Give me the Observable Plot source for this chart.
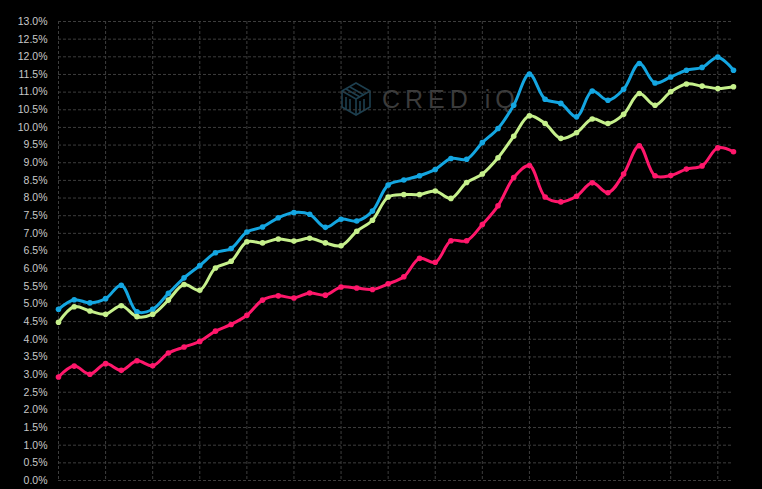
<!DOCTYPE html>
<html><head><meta charset="utf-8">
<script src="https://cdn.jsdelivr.net/npm/d3@7"></script>
<script src="https://cdn.jsdelivr.net/npm/@observablehq/plot@0.6"></script>
<style>
html,body{margin:0;padding:0;background:#000;}
#wrap{position:relative;width:762px;height:489px;background:#000;overflow:hidden;}
#logo{position:absolute;left:340px;top:82px;display:flex;align-items:center;z-index:0;pointer-events:none;}
#logo span{font-family:"Liberation Sans",Arial,sans-serif;font-size:25px;letter-spacing:5px;color:#3b3b3b;margin-left:10px;}
#chart{position:absolute;left:0;top:0;z-index:1;}
</style></head><body>
<div id="wrap">
  <div id="logo">
    <svg width="32" height="34" viewBox="0 0 32 34">
      <g fill="none" stroke="#1d3f4f" stroke-width="1.6">
        <polygon points="16,1 30,9 30,25 16,33 2,25 2,9"/>
        <line x1="16" y1="17" x2="16" y2="33"/><line x1="16" y1="17" x2="2" y2="9"/><line x1="16" y1="17" x2="30" y2="9"/>
        <line x1="6" y1="7" x2="20" y2="15"/><line x1="10" y1="5" x2="24" y2="13"/><line x1="20" y1="19" x2="20" y2="31"/><line x1="24" y1="17" x2="24" y2="29"/>
        <line x1="6" y1="15" x2="6" y2="27"/><line x1="10" y1="17" x2="10" y2="29"/>
      </g>
    </svg>
    <span>CRED iQ</span>
  </div>
  <div id="chart"></div>
</div>
<script>
const seriesNames = ["Series 1", "Series 2", "Series 3"];
const seriesColors = ["#14a6e1", "#c6f08c", "#ff176b"];
const series1 = [4.85,5.12,5.03,5.15,5.53,4.78,4.85,5.30,5.74,6.09,6.45,6.57,7.04,7.18,7.44,7.59,7.54,7.17,7.40,7.35,7.63,8.37,8.51,8.63,8.81,9.12,9.10,9.57,9.97,10.63,11.51,10.80,10.68,10.30,11.03,10.77,11.08,11.81,11.26,11.43,11.62,11.70,11.99,11.62];
const series2 = [4.48,4.92,4.80,4.71,4.95,4.64,4.71,5.11,5.55,5.39,6.02,6.21,6.76,6.73,6.84,6.78,6.86,6.73,6.65,7.06,7.37,8.03,8.10,8.10,8.20,7.99,8.44,8.68,9.14,9.75,10.33,10.11,9.69,9.85,10.24,10.11,10.37,10.96,10.63,11.01,11.23,11.17,11.10,11.15];
const series3 = [2.93,3.24,3.01,3.31,3.12,3.39,3.25,3.61,3.78,3.94,4.23,4.42,4.68,5.11,5.23,5.17,5.31,5.25,5.48,5.45,5.41,5.57,5.77,6.29,6.18,6.79,6.79,7.25,7.78,8.58,8.92,8.03,7.89,8.05,8.43,8.15,8.68,9.48,8.63,8.64,8.82,8.91,9.42,9.31];
const yTicks = d3.range(0, 13.01, 0.5);
const xGridEvery = 3;

const allSeries = [series1, series2, series3];
const data = allSeries.flatMap((vals, k) => vals.map((v, i) => ({i, v, s: seriesNames[k]})));
const n = series1.length;
const xGrid = d3.range(0, n - 1, xGridEvery);

const chart = Plot.plot({
  width: 762, height: 489,
  marginLeft: 58, marginRight: 29, marginTop: 21, marginBottom: 9,
  style: {background: "transparent", color: "#c8c8c8", fontFamily: "'Liberation Sans', Arial, sans-serif", fontSize: "10.5px"},
  x: {domain: [0, n - 1], axis: null},
  y: {domain: [0, 13], axis: null},
  color: {domain: seriesNames, range: seriesColors},
  marks: [
    Plot.gridY(yTicks, {stroke: "#3d3d3d", strokeOpacity: 1, strokeDasharray: "3,2"}),
    Plot.gridX(xGrid, {stroke: "#3d3d3d", strokeOpacity: 1, strokeDasharray: "3,2"}),
    Plot.axisY(yTicks, {tickSize: 0, tickPadding: 11, label: null, tickFormat: d => d.toFixed(1) + "%", fill: "#c8c8c8"}),
    Plot.line(data, {x: "i", y: "v", z: "s", stroke: "s", strokeWidth: 3, curve: "catmull-rom"}),
    Plot.dot(data, {x: "i", y: "v", fill: "s", r: 2.8})
  ]
});
document.getElementById("chart").appendChild(chart);
</script>
</body></html>
